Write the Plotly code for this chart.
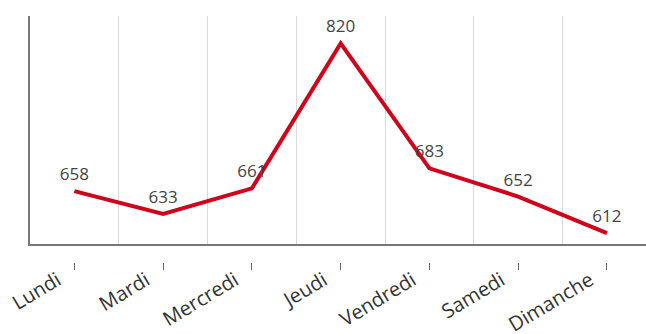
import plotly.graph_objects as go

days = ["Lundi", "Mardi", "Mercredi", "Jeudi", "Vendredi", "Samedi", "Dimanche"]
values = [658, 633, 661, 820, 683, 652, 612]
y_range = [600, 850]

PLOT_H = 334 - 16 - 60  # plot-area height in px


def paper_pos(px_from_top):
    return (334 - 60 - px_from_top) / PLOT_H


fig = go.Figure()
# invisible traces carrying the helper axes (grid boundaries, tick labels)
fig.add_trace(go.Scatter(x=days, y=values, xaxis="x2", yaxis="y", mode="lines",
                         line=dict(width=0), hoverinfo="skip", showlegend=False))
fig.add_trace(go.Scatter(x=days, y=values, xaxis="x3", yaxis="y", mode="lines",
                         line=dict(width=0), hoverinfo="skip", showlegend=False))
fig.add_trace(go.Scatter(x=days, y=values, xaxis="x", yaxis="y", mode="lines+markers+text",
                         text=[str(v) for v in values], textposition="top center",
                         textfont=dict(family="Open Sans", size=17, color="#444"),
                         marker=dict(size=9, color="rgba(0,0,0,0)"),
                         line=dict(color="#d0021b", width=4), cliponaxis=False,
                         showlegend=False))

fig.update_layout(
    width=646, height=334,
    margin=dict(l=30, r=0, t=16, b=60, autoexpand=False),
    paper_bgcolor="white", plot_bgcolor="white",
    font=dict(family="Open Sans", color="#333"),
    # tick marks, detached below the axis line
    xaxis=dict(type="category", categoryarray=days, range=[-0.5, 6.44],
               anchor="free", position=paper_pos(262), showgrid=False, showline=False,
               zeroline=False, ticks="outside", ticklen=7, tickcolor="#666",
               tickwidth=1, showticklabels=False, automargin=False),
    # axis line + grid at category boundaries
    xaxis2=dict(type="category", categoryarray=days, matches="x", overlaying="x",
                anchor="y", tickson="boundaries", showgrid=True, gridcolor="#d9d9d9",
                gridwidth=1, showline=True, linecolor="#777", linewidth=2,
                ticks="", showticklabels=False, zeroline=False, automargin=False),
    # rotated tick labels
    xaxis3=dict(type="category", categoryarray=days, matches="x", overlaying="x",
                anchor="free", position=paper_pos(264), showgrid=False, showline=False,
                zeroline=False, ticks="", tickangle=-31,
                tickfont=dict(size=20, color="#333"), ticklabelshift=-17,
                automargin=False),
    yaxis=dict(range=y_range, domain=[paper_pos(244), 1], anchor="x", showgrid=False,
               showline=True, linecolor="#777", linewidth=2, ticks="",
               showticklabels=False, zeroline=False, automargin=False),
)

fig.write_html("out.html", post_script="document.body.style.margin='0';",
               config={"displayModeBar": False})
